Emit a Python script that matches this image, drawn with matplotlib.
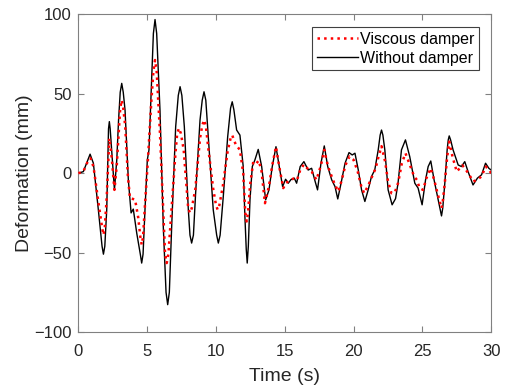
import matplotlib.pyplot as plt

plt.rcParams['font.family'] = ['Liberation Sans', 'DejaVu Sans']

# (time s, deformation mm)
without_damper = [
    (0, 0), (0.36, 1), (0.85, 12), (1.09, 6.3), (1.45, -23), (1.72, -46),
    (1.82, -51), (1.92, -46), (2.06, -23), (2.19, 28), (2.25, 32.5),
    (2.31, 28), (2.42, 14.6), (2.62, -10.5), (2.79, 8.4), (2.92, 33.5),
    (3.04, 51), (3.15, 56.6), (3.26, 51), (3.39, 39.8), (3.63, -4.2),
    (3.83, -25), (3.99, -22.6), (4.24, -37.7), (4.5, -51), (4.6, -56.6),
    (4.7, -51), (4.84, -23), (5.01, 8.4), (5.13, 14.7), (5.33, 60.8),
    (5.45, 88), (5.57, 96.8), (5.69, 88), (5.93, 39.8), (6.17, -33.6),
    (6.37, -75), (6.49, -82.8), (6.61, -75), (6.78, -33.6), (7.07, 29.3),
    (7.26, 49), (7.39, 54.5), (7.52, 49), (7.7, 29.3), (7.99, -23),
    (8.11, -39), (8.23, -44), (8.36, -39), (8.52, -12.6), (8.84, 33.5),
    (9.0, 46), (9.13, 51.3), (9.26, 46), (9.44, 23), (9.8, -23),
    (10.05, -39), (10.17, -44), (10.3, -39), (10.53, -14.7), (10.85, 23),
    (11.06, 41), (11.18, 45), (11.3, 40), (11.5, 27.2), (11.74, 24),
    (11.98, 4.2), (12.1, -27), (12.2, -48), (12.27, -56.6), (12.35, -46),
    (12.47, -16.8), (12.64, 4.2), (12.83, 8.4), (13.07, 15), (13.32, 4.2),
    (13.61, -16.8), (13.85, -10.5), (14.09, 4.2), (14.36, 16.7), (14.6, 4.2),
    (14.84, -8.4), (15.06, -3.8), (15.25, -6.3), (15.45, -4), (15.69, -3.1),
    (15.86, -6.3), (16.12, 4.2), (16.39, 7.3), (16.7, 2), (16.95, 3.1),
    (17.2, -5), (17.38, -10.5), (17.63, 6.3), (17.87, 17.2), (18.12, 4.2),
    (18.41, -4.2), (18.65, -8.4), (18.85, -16.2), (19.09, -6.3), (19.38, 6.3),
    (19.67, 13), (19.9, 11.5), (20.1, 12.6), (20.34, 2.1), (20.58, -10.5),
    (20.82, -17.8), (21.06, -10.5), (21.3, -2.1), (21.54, 2.1), (21.79, 14.7),
    (21.93, 24), (22.03, 27.2), (22.13, 24), (22.27, 14.7), (22.51, -10.5),
    (22.8, -19.9), (23.05, -16), (23.23, -6.3), (23.48, 14.7), (23.77, 21),
    (24.08, 10.5), (24.45, -6.3), (24.69, -9.4), (24.98, -19.9), (25.23, -4.2),
    (25.42, 4.2), (25.61, 7.7), (25.85, -4.2), (26.1, -14.7), (26.3, -23),
    (26.39, -26.9), (26.48, -22), (26.63, -6.3), (26.8, 14.7), (26.88, 21),
    (26.95, 23.5), (27.05, 21), (27.23, 14.7), (27.6, 5.2), (27.84, 4.2),
    (28.08, 7.3), (28.32, 1), (28.68, -7.4), (29.0, -3.1), (29.3, -1),
    (29.59, 6.3), (29.83, 3.1), (30, 2),
]

viscous_damper = [
    (0, 0), (0.36, 1), (0.73, 8.4), (0.88, 9.4), (1.1, 4), (1.45, -18),
    (1.72, -34), (1.82, -38.8), (1.92, -34), (2.06, -15), (2.25, 22),
    (2.42, 10), (2.62, -10.5), (2.79, 5), (2.95, 28), (3.04, 41), (3.15, 46),
    (3.26, 41), (3.4, 30), (3.6, -2), (3.75, -15.7), (4.12, -16.6),
    (4.35, -28), (4.5, -40), (4.6, -45), (4.7, -40), (4.84, -20), (5.05, 8),
    (5.3, 45), (5.45, 64), (5.57, 71.3), (5.69, 64), (5.93, 25), (6.17, -25),
    (6.3, -51), (6.42, -56.6), (6.54, -51), (6.75, -25), (7.05, 12),
    (7.18, 25), (7.31, 28.3), (7.45, 25), (7.65, 15), (7.98, -22),
    (8.11, -25), (8.24, -22), (8.5, -10), (8.84, 22), (9.0, 30), (9.13, 33.5),
    (9.26, 30), (9.45, 15), (9.8, -10), (10.0, -20), (10.12, -23),
    (10.25, -20), (10.5, -8), (10.85, 14), (11.06, 22), (11.18, 24),
    (11.3, 21), (11.45, 17.8), (11.74, 14.7), (11.98, 0), (12.13, -25),
    (12.23, -30.4), (12.33, -25), (12.47, -8), (12.71, 7.3), (12.95, 6.3),
    (13.1, 8), (13.3, 2), (13.56, -18.9), (13.85, -8), (14.09, 5),
    (14.36, 16.7), (14.6, 4), (14.89, -9.4), (15.1, -6), (15.3, -5),
    (15.5, -4), (15.7, -3), (15.9, -4), (16.12, 2), (16.39, 5.5), (16.7, 2.5),
    (16.95, 1), (17.3, -4.2), (17.63, 5), (17.87, 14.7), (18.15, 4),
    (18.45, -3), (18.65, -7.4), (18.9, -11.5), (19.15, -4), (19.4, 5),
    (19.7, 10.5), (20.0, 8.4), (20.3, 1), (20.55, -8), (20.77, -12.6),
    (21.05, -8), (21.4, -1), (21.6, 3), (21.8, 10), (22.03, 17), (22.3, 7),
    (22.5, -5), (22.75, -12.6), (23.0, -12), (23.24, -6), (23.5, 6),
    (23.77, 12.6), (24.1, 5), (24.4, -2), (24.6, -4.2), (24.8, -9.4),
    (25.05, -10.5), (25.3, -3), (25.6, 3.1), (25.85, -4), (26.1, -12.6),
    (26.3, -19), (26.39, -22), (26.48, -18), (26.63, -6), (26.8, 10),
    (26.95, 19.9), (27.2, 10), (27.5, 1), (27.9, 5), (28.1, 3), (28.4, -1),
    (28.7, -5.2), (29.0, -4), (29.3, -2), (29.6, 4.2), (29.85, 2), (30, 0),
]

t_wo, d_wo = zip(*without_damper)
t_vd, d_vd = zip(*viscous_damper)

fig = plt.figure(figsize=(5.09, 3.91), dpi=100)
ax = fig.add_axes([0.154, 0.151, 0.811, 0.812])

ax.plot(t_vd, d_vd, color='red', linestyle=':', linewidth=1.8,
        label='Viscous damper', zorder=3)
ax.plot(t_wo, d_wo, color='black', linestyle='-', linewidth=1.0,
        label='Without damper', zorder=2)

ax.set_xlim(0, 30)
ax.set_ylim(-100, 100)
ax.set_xticks([0, 5, 10, 15, 20, 25, 30])
ax.set_yticks([-100, -50, 0, 50, 100])

axis_grey = '#808080'
for s in ax.spines.values():
    s.set_color(axis_grey)
    s.set_linewidth(0.8)
ax.tick_params(direction='in', top=True, right=True, length=4,
               color=axis_grey, labelsize=12, labelcolor='#262626', pad=5)
ax.tick_params(axis='x', pad=9)

ax.set_xlabel('Time (s)', fontsize=14, color='#262626', labelpad=6)
ax.set_ylabel('Deformation (mm)', fontsize=14, color='#262626', labelpad=1)

leg = ax.legend(loc='upper right', fontsize=11.5, handlelength=2.6,
                handletextpad=0.1, borderpad=0.3, labelspacing=0.25,
                borderaxespad=0, fancybox=False, framealpha=1,
                bbox_to_anchor=(0.971, 0.961))
leg.get_frame().set_edgecolor('#404040')
leg.get_frame().set_linewidth(0.8)

plt.savefig('out.png', dpi=100)
